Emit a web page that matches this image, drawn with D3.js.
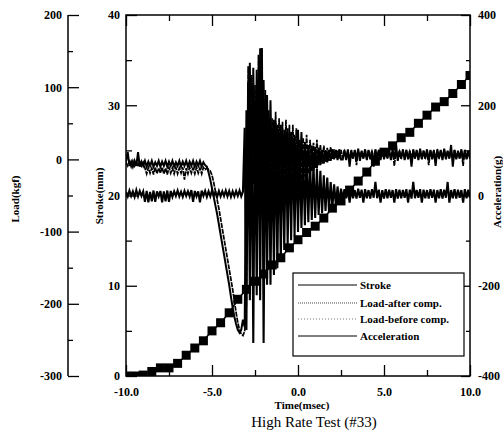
<!DOCTYPE html>
<html>
<head>
<meta charset="utf-8">
<script src="https://cdn.jsdelivr.net/npm/d3@7"></script>
<style>
  body { margin: 0; background: #fff; }
  svg { display: block; }
  text { font-family: "Liberation Serif", "DejaVu Serif", serif; fill: #000; }
</style>
</head>
<body>
<svg id="chart" width="503" height="439"></svg>
<script>
// sample times (msec), shared by the load and acceleration traces
const time = [
  -10.0, -9.9, -9.8, -9.7, -9.6, -9.5, -9.4, -9.3, -9.2, -9.1,
  -9.0, -8.9, -8.8, -8.7, -8.6, -8.5, -8.4, -8.3, -8.2, -8.1,
  -8.0, -7.9, -7.8, -7.7, -7.6, -7.5, -7.4, -7.3, -7.2, -7.1,
  -7.0, -6.9, -6.8, -6.7, -6.6, -6.5, -6.4, -6.3, -6.2, -6.1,
  -6.0, -5.9, -5.8, -5.7, -5.6, -5.5, -5.4, -5.3, -5.2, -5.1,
  -5.0, -4.9, -4.8, -4.7, -4.6, -4.5, -4.4, -4.3, -4.2, -4.1,
  -4.0, -3.9, -3.8, -3.7, -3.6, -3.5, -3.4, -3.3, -3.2, -3.1,
  -3.0, -2.9, -2.8, -2.7, -2.6, -2.5, -2.4, -2.3, -2.2, -2.1,
  -2.0, -1.9, -1.8, -1.7, -1.6, -1.5, -1.4, -1.3, -1.2, -1.1,
  -1.0, -0.9, -0.8, -0.7, -0.6, -0.5, -0.4, -0.3, -0.2, -0.1,
  0.0, 0.1, 0.2, 0.3, 0.4, 0.5, 0.6, 0.7, 0.8, 0.9,
  1.0, 1.1, 1.2, 1.3, 1.4, 1.5, 1.6, 1.7, 1.8, 1.9,
  2.0, 2.1, 2.2, 2.3, 2.4, 2.5, 2.6, 2.7, 2.8, 2.9,
  3.0, 3.1, 3.2, 3.3, 3.4, 3.5, 3.6, 3.7, 3.8, 3.9,
  4.0, 4.1, 4.2, 4.3, 4.4, 4.5, 4.6, 4.7, 4.8, 4.9,
  5.0, 5.1, 5.2, 5.3, 5.4, 5.5, 5.6, 5.7, 5.8, 5.9,
  6.0, 6.1, 6.2, 6.3, 6.4, 6.5, 6.6, 6.7, 6.8, 6.9,
  7.0, 7.1, 7.2, 7.3, 7.4, 7.5, 7.6, 7.7, 7.8, 7.9,
  8.0, 8.1, 8.2, 8.3, 8.4, 8.5, 8.6, 8.7, 8.8, 8.9,
  9.0, 9.1, 9.2, 9.3, 9.4, 9.5, 9.6, 9.7, 9.8, 9.9,
  10.0
];

// Load-after comp. (kgf)
const loadAfter = [
  -3, 10, -9, -3, -10, -2, -9, 10, -10, -3,
  -9, -2, -10, -3, -9, -2, -10, -4, -9, -2,
  -10, -3, -9, -2, -10, -3, -9, -2, -10, -4,
  -9, -2, -10, -3, -9, -2, -10, -3, -9, -2,
  -10, -3, -9, -2, -10, -4, -8, -10, -18, -28,
  -40, -52, -64, -76, -90, -104, -118, -132, -146, -160,
  -174, -190, -205, -218, -228, -236, -240, -236, -222, -232,
  68, -64, 134, -66, 127, -53, 124, -54, 154, -35,
  110, -50, 89, -50, 82, -48, 55, -40, 48, -40,
  48, -40, 41, -38, 43, -36, 38, -34, 34, -32,
  41, -30, 38, -26, 24, -24, 20, -20, 19, -16,
  17, -12, 16, -8, 13, -6, 13, -4, 13, -2,
  14, 0, 13, -1, 14, 0, 0, 13, -1, 14,
  -10, 12, 1, 13, 0, 15, -2, 12, 1, 14,
  -1, 13, 0, 12, -10, 14, 1, 13, -1, 15,
  0, 12, 2, 14, -1, 13, 0, 20, -2, 12,
  1, 14, -1, 13, 0, 12, -10, 14, 1, 13,
  -1, 15, 0, 12, 1, 14, -1, 13, 0, 12,
  -9, 14, 1, 13, -1, 15, 0, 12, 1, 20,
  -10, 13, 0, 12, 1, 14, -1, 13, 0, 12,
  1
];

// Load-before comp. (kgf)
const loadBefore = [
  -4, -9, -3, -10, -2, -9, -3, -10, -2, -9,
  -4, -12, -20, -11, -19, -12, -21, -11, -20, -12,
  -19, -11, -20, -12, -21, -11, -19, -12, -20, -11,
  -20, -12, -19, -11, -28, -12, -20, -11, -19, -12,
  -20, -11, -19, -12, -20, -11, -14, -12, -14, -16,
  -22, -32, -44, -56, -68, -82, -96, -110, -124, -138,
  -152, -166, -180, -196, -212, -226, -236, -242, -244, -238,
  -200, 129, -20, 117, -34, 103, -32, 145, -20, 138,
  -35, 96, -42, 68, -46, 57, -52, 66, -51, 57,
  -47, 52, -42, 55, -40, 48, -38, 48, -35, 43,
  -32, 27, -28, 30, -24, 34, -20, 27, -16, 23,
  -12, 27, -8, 20, -6, 19, -4, 16, -2, 17,
  0, 14, 2, 12, 1, 13, 2, 11, 3, 12,
  1, 13, 2, 11, -8, 12, 3, 11, 2, 13,
  1, 12, 3, 11, 2, 12, 1, 13, 2, 11,
  3, 12, 1, 11, 2, 13, -9, 12, 2, 11,
  3, 12, 1, 13, 2, 11, 3, 12, 1, 11,
  2, 13, 1, 12, 3, 11, -8, 12, 2, 13,
  1, 11, 3, 12, 2, 13, 1, 11, 2, 12,
  3, 13, 1, 11, 2, 12, -9, 13, 1, 11,
  2
];

// Acceleration (g)
const accel = [
  8, -2, 11, -1, 9, -3, 12, -2, 10, -1,
  9, -14, 10, -15, 8, -13, 11, -14, 9, -2,
  10, -15, 9, -13, 11, -14, 10, -3, 9, -1,
  11, -2, 8, -3, 10, -1, 9, -2, 12, -14,
  10, -2, 9, -15, 11, -1, 10, -3, 9, -2,
  11, -1, 8, -3, 10, -2, 9, -1, 11, -2,
  10, -3, 9, -2, 10, -1, 11, -2, 9, 150,
  -298, 250, -232, 200, -327, 210, -221, 260, -232, 327,
  -327, 200, -198, 170, -198, 150, -176, 160, -161, 140,
  -147, 130, -121, 140, -110, 120, -99, 125, -90, 110,
  -81, 100, -72, 95, -66, 90, -59, 80, -54, 70,
  -50, 60, -43, 55, -39, 45, -34, 40, -30, 30,
  -26, 25, -21, 20, -19, 15, -8, 14, -6, 13,
  -16, 14, -6, 12, -7, 15, -5, 13, -16, 14,
  -6, 12, -7, 14, -5, 30, -6, 13, -16, 12,
  -7, 14, -6, 13, -5, 12, -16, 14, -7, 13,
  -6, 12, -5, 14, -16, 13, -7, 30, -6, 12,
  -5, 14, -16, 13, -6, 12, -7, 14, -5, 13,
  -16, 12, -6, 14, -7, 13, -5, 30, -16, 12,
  -6, 14, -7, 13, -5, 12, -16, 14, -6, 13,
  -5
];

// Stroke (mm), marker points
const strokeTime = [
  -10.0, -9.5, -9.0, -8.5, -8.0, -7.5, -7.0, -6.5, -6.0, -5.5,
  -5.0, -4.5, -4.0, -3.5, -3.0, -2.5, -2.0, -1.5, -1.0, -0.5,
  0.0, 0.5, 1.0, 1.5, 2.0, 2.5, 3.0, 3.5, 4.0, 4.5,
  5.0, 5.5, 6.0, 6.5, 7.0, 7.5, 8.0, 8.5, 9.0, 9.5,
  10.0
];
const stroke = [
  0.0, 0.0, 0.1, 0.5, 0.9, 0.9, 1.4, 2.3, 3.1, 3.9,
  5.0, 5.9, 7.0, 8.5, 9.6, 10.5, 11.3, 12.3, 13.1, 14.2,
  15.1, 15.9, 16.6, 17.5, 18.6, 19.4, 20.6, 21.6, 22.6, 23.8,
  24.8, 25.5, 26.4, 27.0, 28.0, 28.9, 29.8, 30.4, 31.3, 32.3,
  33.3
];

// axis ticks
const timeTicks = [-10, -5, 0, 5, 10];
const timeMinor = [-7.5, -2.5, 2.5, 7.5];
const strokeTicks = [0, 10, 20, 30, 40];
const strokeMinor = [5, 15, 25, 35];
const loadTicks = [-300, -200, -100, 0, 100, 200];
const loadMinor = [-250, -150, -50, 50, 150];
const accTicks = [-400, -200, 0, 200, 400];
const accMinor = [-300, -100, 100, 300];

const legendLabels = ["Stroke", "Load-after comp.", "Load-before comp.", "Acceleration"];

const svg = d3.select("#chart");
const plotL = 126, plotR = 470, plotT = 15, plotB = 376;

const x = d3.scaleLinear().domain([-10, 10]).range([plotL, plotR]);
const yStroke = d3.scaleLinear().domain([0, 40]).range([plotB, plotT]);
const yLoad = d3.scaleLinear().domain([-300, 200]).range([plotB, plotT]);
const yAcc = d3.scaleLinear().domain([-400, 400]).range([plotB, plotT]);

svg.append("clipPath").attr("id", "plotClip")
  .append("rect").attr("x", plotL).attr("y", plotT)
  .attr("width", plotR - plotL).attr("height", plotB - plotT);

const plot = svg.append("g").attr("clip-path", "url(#plotClip)");

function traceLine(vals, yScale) {
  return d3.line()
    .x((d, i) => x(time[i]))
    .y(d => yScale(d))(vals);
}

// acceleration
plot.append("path")
  .attr("d", traceLine(accel, yAcc))
  .attr("fill", "none").attr("stroke", "#000").attr("stroke-width", 2.1);

// load before comp
plot.append("path")
  .attr("d", traceLine(loadBefore, yLoad))
  .attr("fill", "none").attr("stroke", "#000").attr("stroke-width", 1.7)
  .attr("stroke-dasharray", "5,1");

// load after comp
plot.append("path")
  .attr("d", traceLine(loadAfter, yLoad))
  .attr("fill", "none").attr("stroke", "#000").attr("stroke-width", 2);

// stroke with square markers
const strokeLine = d3.line()
  .x((d, i) => x(strokeTime[i]))
  .y(d => yStroke(d));
plot.append("path")
  .attr("d", strokeLine(stroke))
  .attr("fill", "none").attr("stroke", "#000").attr("stroke-width", 1.5);
plot.selectAll("rect.mk")
  .data(stroke)
  .join("rect")
  .attr("class", "mk")
  .attr("x", (d, i) => x(strokeTime[i]) - 4.5)
  .attr("y", d => yStroke(d) - 4.5)
  .attr("width", 9).attr("height", 9)
  .attr("fill", "#000");

// frame
svg.append("rect")
  .attr("x", plotL).attr("y", plotT)
  .attr("width", plotR - plotL).attr("height", plotB - plotT)
  .attr("fill", "none").attr("stroke", "#000").attr("stroke-width", 1.5);

function styleAxis(g) {
  g.select(".domain").remove();
  g.selectAll("line").attr("stroke", "#000").attr("stroke-width", 1.3);
  g.selectAll("text")
    .style("font-family", '"Liberation Serif", serif')
    .style("font-weight", "bold")
    .style("font-size", "12px");
}

const fmtInt = d => String(d);
const fmtOne = d => d.toFixed(1);

// bottom / top time axes
svg.append("g").attr("transform", `translate(0,${plotB})`)
  .call(d3.axisBottom(x).tickValues(timeTicks).tickSize(-11).tickPadding(11)
    .tickFormat(fmtOne))
  .call(styleAxis);
svg.append("g").attr("transform", `translate(0,${plotB})`)
  .call(d3.axisBottom(x).tickValues(timeMinor).tickSize(-6).tickFormat(""))
  .call(styleAxis);
svg.append("g").attr("transform", `translate(0,${plotT})`)
  .call(d3.axisTop(x).tickValues(timeTicks).tickSize(-11).tickFormat(""))
  .call(styleAxis);
svg.append("g").attr("transform", `translate(0,${plotT})`)
  .call(d3.axisTop(x).tickValues(timeMinor).tickSize(-6).tickFormat(""))
  .call(styleAxis);

// stroke axis (inner left)
svg.append("g").attr("transform", `translate(${plotL},0)`)
  .call(d3.axisLeft(yStroke).tickValues(strokeTicks).tickSize(-11).tickPadding(6)
    .tickFormat(fmtInt))
  .call(styleAxis);
svg.append("g").attr("transform", `translate(${plotL},0)`)
  .call(d3.axisLeft(yStroke).tickValues(strokeMinor).tickSize(-6).tickFormat(""))
  .call(styleAxis);

// acceleration axis (right)
svg.append("g").attr("transform", `translate(${plotR},0)`)
  .call(d3.axisRight(yAcc).tickValues(accTicks).tickSize(-9).tickPadding(8)
    .tickFormat(fmtInt))
  .call(styleAxis);
svg.append("g").attr("transform", `translate(${plotR},0)`)
  .call(d3.axisRight(yAcc).tickValues(accMinor).tickSize(-4).tickFormat(""))
  .call(styleAxis);

// load axis (outer left, free standing)
const loadX = 68;
svg.append("line")
  .attr("x1", loadX).attr("x2", loadX)
  .attr("y1", yLoad(200)).attr("y2", yLoad(-300))
  .attr("stroke", "#000").attr("stroke-width", 1.5);
svg.append("g").attr("transform", `translate(${loadX},0)`)
  .call(d3.axisLeft(yLoad).tickValues(loadTicks).tickSize(-11).tickPadding(6)
    .tickFormat(fmtInt))
  .call(styleAxis);
svg.append("g").attr("transform", `translate(${loadX},0)`)
  .call(d3.axisLeft(yLoad).tickValues(loadMinor).tickSize(-5).tickFormat(""))
  .call(styleAxis);

// axis titles
svg.append("text")
  .attr("transform", "translate(19,199) rotate(-90)")
  .attr("text-anchor", "middle")
  .style("font-size", "11px").style("font-weight", "bold")
  .text("Load(kgf)");
svg.append("text")
  .attr("transform", "translate(103,196) rotate(-90)")
  .attr("text-anchor", "middle")
  .style("font-size", "11px").style("font-weight", "bold")
  .text("Stroke(mm)");
svg.append("text")
  .attr("transform", "translate(501,192) rotate(-90)")
  .attr("text-anchor", "middle")
  .style("font-size", "11px").style("font-weight", "bold")
  .text("Acceleration(g)");
svg.append("text")
  .attr("x", 302).attr("y", 409)
  .attr("text-anchor", "middle")
  .style("font-size", "11px").style("font-weight", "bold")
  .text("Time(msec)");
svg.append("text")
  .attr("x", 314).attr("y", 427)
  .attr("text-anchor", "middle")
  .style("font-size", "15px")
  .text("High Rate Test (#33)");

// legend
const legend = svg.append("g");
legend.append("rect")
  .attr("x", 293).attr("y", 273).attr("width", 171).attr("height", 83)
  .attr("fill", "#fff").attr("stroke", "#000").attr("stroke-width", 1.2);
const legendY = [285, 303, 319, 336];
const legendDash = [null, "1,1", "1,2", null];
const legendColor = ["#000", "#444", "#777", "#000"];
legendLabels.forEach((lab, i) => {
  legend.append("line")
    .attr("x1", 298).attr("x2", 357)
    .attr("y1", legendY[i]).attr("y2", legendY[i])
    .attr("stroke", legendColor[i]).attr("stroke-width", 1)
    .attr("stroke-dasharray", legendDash[i]);
  legend.append("text")
    .attr("x", 360).attr("y", legendY[i] + 4)
    .style("font-size", "11px").style("font-weight", "bold")
    .text(lab);
});
</script>
</body>
</html>
